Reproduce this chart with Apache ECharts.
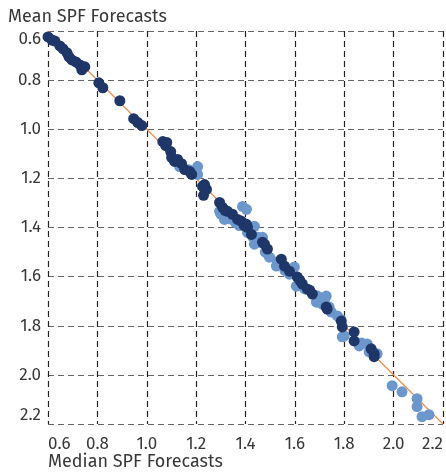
<!DOCTYPE html>
<html>
<head>
<meta charset="utf-8">
<script src="https://cdn.jsdelivr.net/npm/echarts@6/dist/echarts.min.js"></script>
<style>html,body{margin:0;padding:0;background:#fff}#c{width:446px;height:473px}</style>
</head>
<body>
<div id="c"></div>
<script>
// [median, mean]
const darkPoints = [
  [0.600,0.624],[0.616,0.637],[0.628,0.641],[0.648,0.661],[0.661,0.673],[0.677,0.689],
  [0.685,0.705],[0.697,0.718],[0.713,0.726],[0.729,0.738],[0.741,0.750],[0.737,0.758],
  [0.749,0.746],[0.806,0.811],[0.822,0.831],[0.891,0.884],[0.947,0.957],[0.964,0.973],
  [0.980,0.985],[1.065,1.050],[1.077,1.067],[1.081,1.054],[1.097,1.091],[1.101,1.115],
  [1.113,1.131],[1.125,1.123],[1.141,1.140],[1.154,1.164],[1.174,1.172],[1.182,1.184],
  [1.226,1.233],[1.242,1.245],[1.234,1.225],[1.230,1.269],[1.295,1.298],[1.307,1.318],
  [1.327,1.334],[1.347,1.346],[1.368,1.367],[1.384,1.375],[1.404,1.387],[1.408,1.399],
  [1.424,1.428],[1.469,1.460],[1.477,1.468],[1.489,1.488],[1.545,1.529],[1.558,1.557],
  [1.578,1.578],[1.610,1.602],[1.630,1.630],[1.651,1.651],[1.671,1.671],[1.727,1.724],
  [1.731,1.732],[1.788,1.781],[1.792,1.805],[1.840,1.825],[1.840,1.862],[1.909,1.894],
  [1.921,1.914],[1.921,1.926],[1.317,1.330],[1.395,1.392],[1.620,1.615],[1.660,1.655]
];
const lightPoints = [
  [1.133,1.152],[1.170,1.165],[1.206,1.152],[1.206,1.184],[1.295,1.334],[1.315,1.367],
  [1.388,1.314],[1.404,1.326],[1.436,1.395],[1.408,1.420],[1.428,1.436],[1.469,1.440],
  [1.436,1.468],[1.457,1.460],[1.497,1.521],[1.525,1.557],[1.598,1.561],[1.606,1.639],
  [1.578,1.590],[1.691,1.679],[1.727,1.679],[1.687,1.704],[1.711,1.712],[1.739,1.724],
  [1.719,1.699],[1.747,1.744],[1.772,1.760],[1.784,1.773],[1.800,1.841],[1.792,1.845],
  [1.861,1.882],[1.893,1.874],[1.901,1.906],[1.933,1.914],[1.994,2.044],[2.034,2.069],
  [2.095,2.097],[2.095,2.129],[2.115,2.170],[2.143,2.162],[1.360,1.380],[1.530,1.540],
  [1.300,1.345],[1.340,1.365],[1.375,1.392],[1.450,1.440],[1.480,1.500],[1.560,1.575],
  [1.640,1.650],[1.700,1.690],[1.870,1.870]
];
const identityLine = [[0.6,0.6],[2.2,2.2]];
const axisMin = 0.6, axisMax = 2.2, axisStep = 0.2;
const xTitle = 'Median SPF Forecasts';
const yTitle = 'Mean SPF Forecasts';

const font = '"Fira Sans","Noto Sans","Open Sans",sans-serif';
const textColor = '#383838';
const chart = echarts.init(document.getElementById('c'), null, {renderer:'canvas'});
chart.setOption({
  animation:false,
  grid:{left:48,right:3,top:31,bottom:49,containLabel:false},
  xAxis:{
    type:'value',min:axisMin,max:axisMax,interval:axisStep,
    axisLine:{show:false},axisTick:{show:false},
    axisLabel:{color:textColor,fontSize:17,fontFamily:font,margin:12,
      formatter:v=>v.toFixed(1),alignMinLabel:'left',alignMaxLabel:'right'},
    splitLine:{show:true,showMinLine:true,showMaxLine:true,
      lineStyle:{color:'#222',width:1.2,type:[6,4]}}
  },
  yAxis:{
    type:'value',inverse:true,min:axisMin,max:axisMax,interval:axisStep,
    axisLine:{show:false},axisTick:{show:false},
    axisLabel:{color:textColor,fontSize:17,fontFamily:font,margin:7,
      formatter:v=>v.toFixed(1),verticalAlignMinLabel:'top',verticalAlignMaxLabel:'bottom'},
    splitLine:{show:true,showMinLine:true,showMaxLine:true,
      lineStyle:{color:'#666',width:1.2,type:[6,4]}}
  },
  graphic:[
    {type:'text',left:8,top:8,style:{text:yTitle,fill:textColor,font:'18px '+font}},
    {type:'text',left:48,top:453,style:{text:xTitle,fill:textColor,font:'18px '+font}}
  ],
  series:[
    {type:'line',data:identityLine,symbol:'none',z:1,silent:true,
      lineStyle:{color:'#f08c4a',width:1.2}},
    {type:'scatter',data:lightPoints,symbolSize:11,z:2,
      itemStyle:{color:'#6b97cd',opacity:1}},
    {type:'scatter',data:darkPoints,symbolSize:11,z:3,
      itemStyle:{color:'#1e3668',opacity:1}}
  ]
});
</script>
</body>
</html>
